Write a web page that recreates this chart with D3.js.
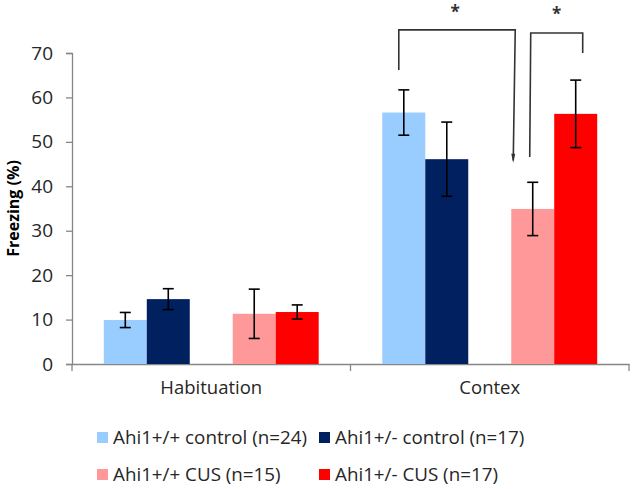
<!DOCTYPE html>
<html><head><meta charset="utf-8">
<script src="https://cdn.jsdelivr.net/npm/d3@7"></script>
<style>body{margin:0;background:#fff}svg{display:block}</style>
</head><body>
<svg id="c" width="633" height="489"></svg>
<script>
const categories = ["Habituation", "Contex"];
const seriesNames = ["Ahi1+/+ control (n=24)", "Ahi1+/- control (n=17)", "Ahi1+/+ CUS (n=15)", "Ahi1+/- CUS (n=17)"];
const wtControl = [9.9, 56.6];
const hetControl = [14.6, 46.1];
const wtCUS = [11.3, 34.9];
const hetCUS = [11.7, 56.3];
const wtControlErr = [1.7, 5.1];
const hetControlErr = [2.35, 8.35];
const wtCUSErr = [5.55, 6.0];
const hetCUSErr = [1.6, 7.6];
const yTicks = [0, 10, 20, 30, 40, 50, 60, 70];
const colors = ["#99CCFF", "#002060", "#FF9999", "#FF0000"];

const values = [wtControl, hetControl, wtCUS, hetCUS];
const errs = [wtControlErr, hetControlErr, wtCUSErr, hetCUSErr];
const slots = ["s0", "s1", "gap", "s2", "s3"];
const seriesSlot = ["s0", "s1", "s2", "s3"];

const svg = d3.select("#c");
const font = "'Open Sans', sans-serif";
const x0 = d3.scaleBand().domain(categories).range([72, 629]).padding(0);
const x1 = d3.scaleBand().domain(slots).range([0, x0.bandwidth()]).paddingInner(0).paddingOuter(0.74);
const y = d3.scaleLinear().domain([0, 70]).range([364, 53]);

// y axis
const yAxis = svg.append("g").attr("transform", "translate(72,0)")
  .call(d3.axisLeft(y).tickValues(yTicks).tickSize(6).tickPadding(13));
yAxis.select(".domain").attr("stroke", "#868686").attr("stroke-width", 1.3);
yAxis.selectAll(".tick line").attr("stroke", "#868686").attr("stroke-width", 1.3);
yAxis.selectAll(".tick text").attr("font-family", font).attr("font-size", 19).attr("fill", "#262626");

// x axis
const xAxis = svg.append("g").attr("transform", "translate(0,364)")
  .call(d3.axisBottom(x0).tickSize(0).tickPadding(17));
xAxis.select(".domain").attr("stroke", "#868686").attr("stroke-width", 1.3);
xAxis.selectAll(".tick text").attr("font-family", font).attr("font-size", 18.5).attr("fill", "#262626");
// category boundary ticks
const bounds = [x0.range()[0], x0(categories[1]), x0.range()[1]];
svg.append("g").selectAll("line").data(bounds).join("line")
  .attr("x1", d => d).attr("x2", d => d).attr("y1", 364).attr("y2", 371)
  .attr("stroke", "#868686").attr("stroke-width", 1.3);

// bars
const data = [];
categories.forEach((c, ci) => values.forEach((s, si) => data.push({c, si, v: s[ci], e: errs[si][ci]})));
const bx = d => x0(d.c) + x1(seriesSlot[d.si]);
svg.append("g").selectAll("rect").data(data).join("rect")
  .attr("x", bx).attr("width", x1.bandwidth())
  .attr("y", d => y(d.v)).attr("height", d => y(0) - y(d.v))
  .attr("fill", d => colors[d.si]);

// error bars
const eg = svg.append("g").attr("stroke", "#000").attr("stroke-width", 1.6);
data.forEach(d => {
  const cx = bx(d) + x1.bandwidth() / 2;
  eg.append("line").attr("x1", cx).attr("x2", cx).attr("y1", y(d.v + d.e)).attr("y2", y(d.v - d.e));
  eg.append("line").attr("x1", cx - 5.5).attr("x2", cx + 5.5).attr("y1", y(d.v + d.e)).attr("y2", y(d.v + d.e));
  eg.append("line").attr("x1", cx - 5.5).attr("x2", cx + 5.5).attr("y1", y(d.v - d.e)).attr("y2", y(d.v - d.e));
});

// significance brackets (Contex)
const cc = categories[1];
const cen = s => x0(cc) + x1(s) + x1.bandwidth() / 2;
const br = svg.append("g").attr("fill", "none").attr("stroke", "#333").attr("stroke-width", 1.6);
const b1L = cen("s0") - 5, b1R = x0(cc) + x1("s2") + 4;
br.append("path").attr("d", `M${b1L},${y(66.2)}V${y(75.2)}H${b1R}L${b1R - 2},${y(45.8)}`);
svg.append("path").attr("d", `M${b1R - 4},${y(47.3)}L${b1R - 2},${y(45.3)}L${b1R},${y(47.3)}Z`).attr("fill", "#333");
const b2L = cen("s2") - 2, b2R = cen("s3") + 7;
br.append("path").attr("d", `M${b2L - 1},${y(46.6)}L${b2L},${y(74.5)}H${b2R}V${y(70)}`);
svg.append("text").attr("x", (b1L + b1R) / 2 - 2).attr("y", 18).attr("text-anchor", "middle")
  .attr("font-family", font).attr("font-size", 17).attr("font-weight", "bold").attr("fill", "#333").text("*");
svg.append("text").attr("x", (b2L + b2R) / 2).attr("y", 20).attr("text-anchor", "middle")
  .attr("font-family", font).attr("font-size", 17).attr("font-weight", "bold").attr("fill", "#333").text("*");

// y label
svg.append("text").attr("transform", `translate(19,${(y(0) + y(70)) / 2}) rotate(-90)`)
  .attr("text-anchor", "middle").attr("font-family", font).attr("font-size", 16).attr("font-weight", "bold")
  .attr("fill", "#000").text("Freezing (%)");

// legend
const legPos = [[97, 432], [319, 432], [97, 469], [319, 469]];
const lg = svg.append("g").selectAll("g").data(seriesNames).join("g")
  .attr("transform", (d, i) => `translate(${legPos[i][0]},${legPos[i][1]})`);
lg.append("rect").attr("width", 11).attr("height", 11).attr("fill", (d, i) => colors[i]);
lg.append("text").attr("x", 16).attr("y", 11.5).attr("font-family", font).attr("font-size", 18.8)
  .attr("fill", "#262626").text(d => d);
</script>
</body></html>
